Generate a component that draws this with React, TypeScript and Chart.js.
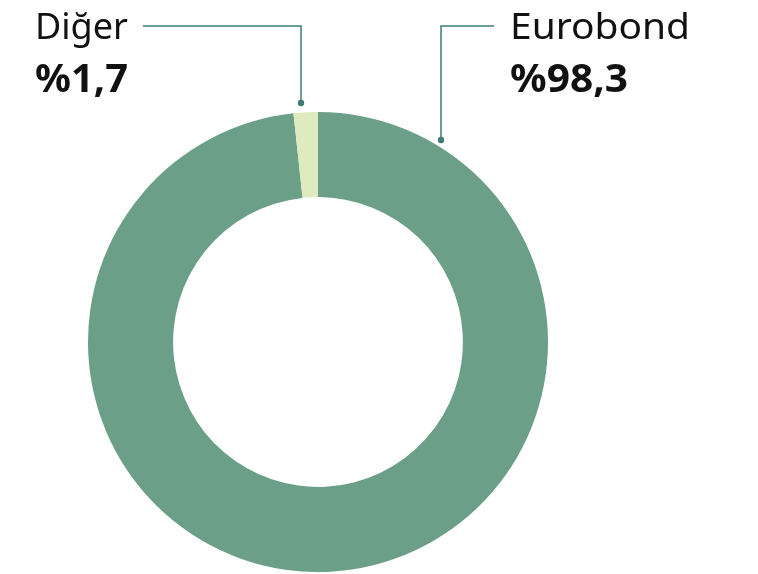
import React, { useEffect, useRef } from "react";
import { Chart, registerables } from "chart.js";

Chart.register(...registerables);

const categories = ["Eurobond", "Diğer"];
const values = [98.3, 1.7];
const valueLabels = ["%98,3", "%1,7"];
const colors = ["#6b9f88", "#ddebbf"];

const FONT = "'Noto Sans', 'Liberation Sans', sans-serif";
const LINE = "#3f7d74";

function fitFont(ctx: any, text: string, weight: string, base: number, target: number) {
  ctx.font = `${weight} ${base}px ${FONT}`;
  const w = ctx.measureText(text).width;
  const sx = target / w;
  return sx;
}

function drawText(ctx: any, text: string, weight: string, size: number, x: number, y: number, target: number) {
  const sx = fitFont(ctx, text, weight, size, target);
  ctx.save();
  ctx.translate(x, y);
  ctx.scale(sx, 1);
  ctx.fillText(text, 0, 0);
  ctx.restore();
}

const labelPlugin = {
  id: "leaderLabels",
  afterDraw(chart: any) {
    const ctx = chart.ctx;
    ctx.save();
    ctx.textAlign = "left";
    ctx.textBaseline = "alphabetic";
    ctx.fillStyle = "#111";
    drawText(ctx, categories[1], "normal", 37, 35, 39, 93);
    drawText(ctx, valueLabels[1], "bold", 40, 35, 92, 93);
    drawText(ctx, categories[0], "normal", 37, 510, 39, 180);
    drawText(ctx, valueLabels[0], "bold", 40, 510, 92, 118);

    ctx.strokeStyle = LINE;
    ctx.fillStyle = LINE;
    ctx.lineWidth = 1.5;
    ctx.beginPath();
    ctx.moveTo(143, 26);
    ctx.lineTo(301, 26);
    ctx.lineTo(301, 103);
    ctx.stroke();
    ctx.beginPath();
    ctx.arc(301, 103, 3.2, 0, Math.PI * 2);
    ctx.fill();

    ctx.beginPath();
    ctx.moveTo(494, 26);
    ctx.lineTo(441, 26);
    ctx.lineTo(441, 140);
    ctx.stroke();
    ctx.beginPath();
    ctx.arc(441, 140, 3.2, 0, Math.PI * 2);
    ctx.fill();
    ctx.restore();
  },
};

export default function App() {
  const ref = useRef<HTMLCanvasElement>(null);
  useEffect(() => {
    if (!ref.current) return;
    const chart = new Chart(ref.current, {
      type: "doughnut",
      data: {
        labels: categories,
        datasets: [
          {
            data: values,
            backgroundColor: colors,
            borderWidth: 0,
          },
        ],
      },
      options: {
        animation: false,
        responsive: false,
        cutout: "63%",
        layout: { padding: { left: 88, top: 112, right: 210, bottom: 2 } },
        plugins: { legend: { display: false }, tooltip: { enabled: false } },
      },
      plugins: [labelPlugin],
    });
    return () => chart.destroy();
  }, []);
  return (
    <div style={{ position: "fixed", left: 0, top: 0, width: 758, height: 574, background: "#fff" }}>
      <canvas ref={ref} width={758} height={574} style={{ width: 758, height: 574 }} />
    </div>
  );
}
